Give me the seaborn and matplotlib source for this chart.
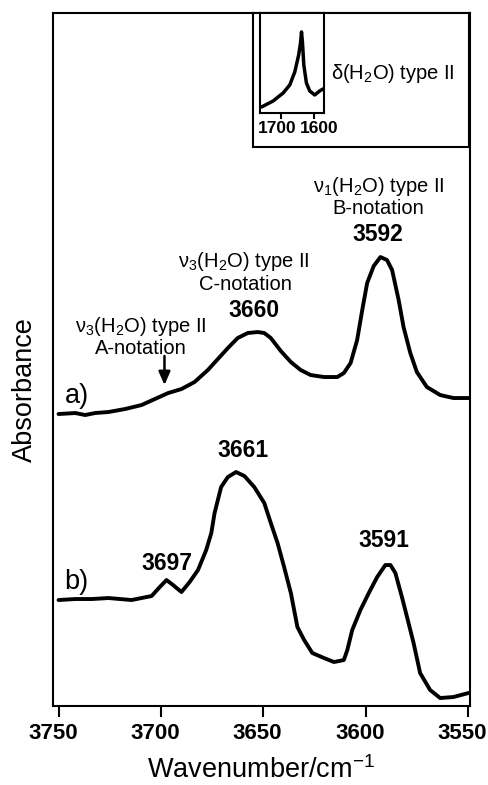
import numpy as np
import pandas as pd
import seaborn as sns
import matplotlib.pyplot as plt

# Spectrum a)
wn_a = [3750.2, 3742.0, 3737.2, 3732.3, 3725.8, 3717.7, 3709.6, 3703.1, 3696.6, 3690.1,
        3683.7, 3677.2, 3672.3, 3667.4, 3662.6, 3657.7, 3652.8, 3649.6, 3646.4, 3641.5,
        3636.6, 3631.8, 3626.9, 3620.4, 3613.9, 3610.7, 3607.4, 3604.2, 3601.7, 3599.3,
        3596.1, 3592.8, 3589.6, 3587.1, 3583.9, 3581.5, 3578.2, 3575.0, 3570.1, 3563.6,
        3557.1, 3549.8]
abs_a = [2.92, 2.93, 2.91, 2.93, 2.94, 2.97, 3.01, 3.07, 3.13, 3.17,
         3.24, 3.36, 3.47, 3.58, 3.68, 3.73, 3.74, 3.73, 3.68, 3.55,
         3.44, 3.36, 3.31, 3.29, 3.29, 3.33, 3.43, 3.66, 3.96, 4.23,
         4.40, 4.49, 4.46, 4.36, 4.06, 3.79, 3.53, 3.34, 3.19, 3.11,
         3.08, 3.08]

# Spectrum b)
wn_b = [3750.2, 3742.0, 3733.9, 3725.8, 3714.5, 3709.6, 3704.7, 3700.7, 3697.4, 3694.2,
        3690.1, 3686.1, 3682.0, 3678.0, 3675.5, 3673.9, 3670.7, 3667.4, 3663.4, 3659.3,
        3654.5, 3649.6, 3646.4, 3643.1, 3639.9, 3636.6, 3633.4, 3630.1, 3626.1, 3620.4,
        3615.5, 3610.7, 3609.0, 3606.6, 3602.6, 3598.5, 3594.4, 3590.4, 3587.9, 3585.5,
        3582.3, 3579.8, 3576.6, 3573.4, 3568.5, 3563.6, 3557.1, 3549.8]
abs_b = [1.06, 1.07, 1.07, 1.08, 1.06, 1.08, 1.10, 1.19, 1.26, 1.21,
         1.14, 1.24, 1.36, 1.56, 1.73, 1.93, 2.19, 2.29, 2.34, 2.30,
         2.19, 2.03, 1.83, 1.63, 1.39, 1.13, 0.79, 0.66, 0.53, 0.48,
         0.44, 0.46, 0.56, 0.76, 0.96, 1.13, 1.29, 1.41, 1.41, 1.33,
         1.09, 0.89, 0.63, 0.33, 0.16, 0.08, 0.09, 0.13]

# Inset: bending mode
wn_ins = [1757.3, 1722.5, 1692.5, 1672.7, 1657.7, 1646.0, 1640.5, 1637.5, 1634.5, 1630.6,
          1622.8, 1612.9, 1597.9, 1582.9, 1573.0]
abs_ins = [0.06, 0.12, 0.20, 0.28, 0.41, 0.58, 0.70, 0.81, 0.70, 0.48,
           0.30, 0.22, 0.18, 0.22, 0.24]

main_ticks = [3750, 3700, 3650, 3600, 3550]
inset_ticks = [1700, 1600]
# label anchors sit slightly off the tick marks in the original
main_label_pos = [3752.9, 3702.9, 3652.9, 3602.9, 3552.9]
inset_label_pos = [1709.6, 1585.0]

sns.set_style("ticks", {"text.color": "black", "xtick.color": "black",
                        "axes.labelcolor": "black", "axes.edgecolor": "black"})
plt.rcParams['font.family'] = ['Liberation Sans', 'DejaVu Sans']
plt.rcParams['mathtext.fontset'] = 'custom'
plt.rcParams['mathtext.rm'] = 'Liberation Sans'
plt.rcParams['mathtext.it'] = 'Liberation Sans:italic'
plt.rcParams['mathtext.bf'] = 'Liberation Sans:bold'
plt.rcParams['axes.linewidth'] = 1.5

fig = plt.figure(figsize=(4.89, 7.85), dpi=100)
ax = fig.add_axes([0.1084, 0.1006, 0.8528, 0.8828])

df_a = pd.DataFrame({"wavenumber": wn_a, "absorbance": abs_a})
df_b = pd.DataFrame({"wavenumber": wn_b, "absorbance": abs_b})
sns.lineplot(data=df_a, x="wavenumber", y="absorbance", color="black", lw=2.8, ax=ax)
sns.lineplot(data=df_b, x="wavenumber", y="absorbance", color="black", lw=2.8, ax=ax)

ax.set_xlim(3752, 3549)
ax.set_ylim(0, 6.93)
ax.set_xticks(main_ticks)
ax.set_xticklabels([])
ax.set_xticks(main_label_pos, minor=True)
ax.set_xticklabels([str(t) for t in main_ticks], minor=True, fontsize=16, fontweight="bold")
ax.set_yticks([])
ax.tick_params(axis="x", which="major", direction="out", length=8, width=1.5)
ax.tick_params(axis="x", which="minor", length=0, pad=12)
ax.set_xlabel("Wavenumber/cm$^{\\mathregular{−1}}$", fontsize=19.5, labelpad=9)
ax.set_ylabel("Absorbance", fontsize=19.5)
ax.yaxis.set_label_coords(-0.036, 0.456)

# labels
ax.text(3747.3, 3.10, "a)", fontsize=19.5, ha="left", va="center")
ax.text(3747.6, 1.24, "b)", fontsize=19.5, ha="left", va="center")

bold = dict(fontsize=16.5, fontweight="bold", ha="center", va="center")
norm = dict(fontsize=14.5, ha="center", va="center")
ax.text(3697.2, 1.43, "3697", **bold)
ax.text(3660.1, 2.56, "3661", **bold)
ax.text(3590.9, 1.66, "3591", **bold)

ax.text(3593.8, 5.20, r"$\mathregular{ν_1(H_2O)}$ type II", **norm)
ax.text(3593.8, 4.98, "B-notation", **norm)
ax.text(3594.0, 4.72, "3592", **bold)

ax.text(3659.7, 4.45, r"$\mathregular{ν_3(H_2O)}$ type II", **norm)
ax.text(3659.0, 4.22, "C-notation", **norm)
ax.text(3654.6, 3.96, "3660", **bold)

ax.text(3710.1, 3.80, r"$\mathregular{ν_3(H_2O)}$ type II", **norm)
ax.text(3710.1, 3.58, "A-notation", **norm)
ax.annotate("", xy=(3698.4, 3.21), xytext=(3698.4, 3.50),
            arrowprops=dict(arrowstyle="-|>,head_length=0.8,head_width=0.35",
                            color="black", lw=1.8, shrinkA=0, shrinkB=0))

# inset frame and inset spectrum
box = fig.add_axes([0.5168, 0.8127, 0.4423, 0.1707])
box.set_xticks([])
box.set_yticks([])
box.patch.set_facecolor("white")

ins = fig.add_axes([0.5317, 0.8561, 0.1309, 0.1274])
df_i = pd.DataFrame({"wavenumber": wn_ins, "absorbance": abs_ins})
sns.lineplot(data=df_i, x="wavenumber", y="absorbance", color="black", lw=2.5, ax=ins)
ins.set_xlim(1762, 1570)
ins.set_ylim(0, 1)
ins.set_xticks(inset_ticks)
ins.set_xticklabels([])
ins.set_xticks(inset_label_pos, minor=True)
ins.set_xticklabels([str(t) for t in inset_ticks], minor=True, fontsize=12.5, fontweight="bold")
ins.set_yticks([])
ins.set_xlabel("")
ins.set_ylabel("")
ins.tick_params(axis="x", which="major", direction="out", length=4, width=1.5)
ins.tick_params(axis="x", which="minor", length=0, pad=6)

fig.text(0.8027, 0.907, r"δ($\mathregular{H_2O}$) type II", fontsize=14.5,
         ha="center", va="center")

fig.savefig("out.png", dpi=100)
